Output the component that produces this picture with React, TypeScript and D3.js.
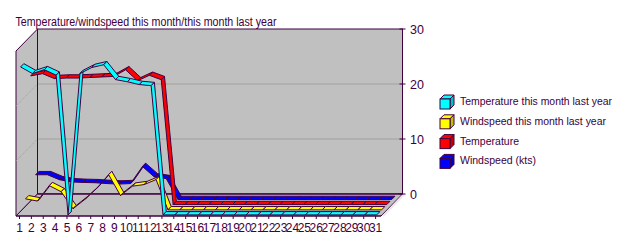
import React from 'react';
import * as d3 from 'd3';

const days = ["1","2","3","4","5","6","7","8","9","10","11","12","13","14","15","16","17","18","19","20","21","22","23","24","25","26","27","28","29","30","31"];
const valueTicks = [0, 10, 20, 30];

const tempLastYear = [26.9, 25.7, 26.4, 25.4, 0, 25.7, 26.8, 27.3, 24.6, 24.2, 23.7, 23.5, 0, 0, 0, 0, 0, 0, 0, 0, 0, 0, 0, 0, 0, 0, 0, 0, 0, 0, 0];
const windLastYear = [2.0, 1.6, 4.4, 3.3, 0.2, 1.9, 3.9, 6.4, 2.6, 4.3, 4.6, 5.5, 0, 0, 0, 0, 0, 0, 0, 0, 0, 0, 0, 0, 0, 0, 0, 0, 0, 0, 0];
const temperature = [23.4, 23.8, 22.9, 23.0, 23.0, 23.1, 23.2, 23.3, 24.5, 22.5, 23.5, 22.7, 0, 0, 0, 0, 0, 0, 0, 0, 0, 0, 0, 0, 0, 0, 0, 0, 0, 0, 0];
const windspeed = [4.5, 4.5, 3.6, 3.2, 3.1, 3.05, 2.9, 2.8, 2.9, 6.0, 4.1, 3.8, 0, 0, 0, 0, 0, 0, 0, 0, 0, 0, 0, 0, 0, 0, 0, 0, 0, 0, 0];

const seriesNames = ["Temperature this month last year", "Windspeed this month last year", "Temperature", "Windspeed (kts)"];
const seriesColors = ["#00ffff", "#ffff00", "#ff0000", "#0000ff"];
const seriesValues = [tempLastYear, windLastYear, temperature, windspeed];
const legendWidths = [152, 146, 59, 76];

const INK = "#400040";
const WALL = "#c0c0c0";
const GRID = "#a0a098";

export default function App() {
  const W = 633, H = 243;
  const x = d3.scalePoint<string>().domain(days).range([19.5, 375.6]);
  const y = d3.scaleLinear().domain([0, 30]).range([216, 51]);
  const DX = 21.5, DY = -22;
  const floorL = 16, floorR = 381;
  const P = (xf: number, v: number, z: number): [number, number] => [xf + DX * z, y(v) + DY * z];
  const pts = (arr: [number, number][]) => arr.map(p => p.join(",")).join(" ");

  const zFront = [0.05, 0.28, 0.52, 0.75];
  const dz = 0.15;

  const backTop = y(30) + DY, backBot = y(0) + DY;

  const ribbons: JSX.Element[] = [];
  for (let s = 3; s >= 0; s--) {
    const vals = seriesValues[s];
    const zf = zFront[s], zb = zf + dz;
    for (let i = 0; i < days.length - 1; i++) {
      const x0 = x(days[i])!, x1 = x(days[i + 1])!;
      const poly = [P(x0, vals[i], zf), P(x1, vals[i + 1], zf), P(x1, vals[i + 1], zb), P(x0, vals[i], zb)];
      ribbons.push(<polygon key={`r${s}-${i}`} points={pts(poly)} fill={seriesColors[s]} stroke={INK} strokeWidth={1} strokeLinejoin="round" />);
    }
  }

  const font = "'Liberation Sans', Arial, sans-serif";

  return (
    <svg width={W} height={H} style={{ position: 'absolute', left: 0, top: 0, background: '#fff' }} fontFamily={font}>
      <rect x={0} y={0} width={W} height={H} fill="#fff" />
      <text x={15.5} y={26} fontSize={12} fill={INK} textLength={261} lengthAdjust="spacingAndGlyphs">Temperature/windspeed this month/this month last year</text>

      {/* back wall */}
      <rect x={floorL + DX} y={backTop} width={floorR - floorL} height={backBot - backTop} fill={WALL} stroke={INK} />
      {/* left wall */}
      <polygon points={pts([P(floorL, 30, 0), P(floorL, 30, 1), P(floorL, 0, 1), P(floorL, 0, 0)])} fill={WALL} stroke={INK} />
      {/* floor */}
      <polygon points={pts([P(floorL, 0, 0), P(floorR, 0, 0), P(floorR, 0, 1), P(floorL, 0, 1)])} fill={WALL} stroke={INK} />
      <line x1={floorR + 2} y1={y(0)} x2={floorR + DX + 2} y2={y(0) + DY} stroke="#e8e8e8" strokeWidth={2} />

      {/* gridlines */}
      {valueTicks.filter(v => v > 0 && v < 30).map(v => (
        <g key={`g${v}`}>
          <line x1={floorL + DX} x2={floorR + DX} y1={y(v) + DY} y2={y(v) + DY} stroke={GRID} />
          <line x1={floorL} y1={y(v)} x2={floorL + DX} y2={y(v) + DY} stroke={GRID} strokeDasharray="1,1" />
        </g>
      ))}
      <line x1={floorL + DX} x2={floorR + DX} y1={backBot} y2={backBot} stroke={INK} />
      <line x1={floorL + DX} x2={floorL + DX} y1={backTop} y2={backBot} stroke={INK} />

      {ribbons}

      {/* value axis */}
      <line x1={floorR + DX} x2={floorR + DX} y1={backTop} y2={backBot} stroke={INK} />
      {valueTicks.map(v => (
        <g key={`t${v}`}>
          <line x1={floorR + DX - 3} x2={floorR + DX + 3} y1={y(v) + DY} y2={y(v) + DY} stroke={INK} />
          <text x={410} y={y(v) + DY + 4.5} fontSize={12.5} fill={INK}>{v}</text>
        </g>
      ))}

      {/* category axis */}
      <line x1={floorL} x2={floorR} y1={y(0)} y2={y(0)} stroke={INK} />
      {days.map(d => (
        <g key={`c${d}`}>
          <line x1={x(d)} x2={x(d)} y1={y(0)} y2={y(0) + 3} stroke={INK} />
          <text x={x(d)} y={232} fontSize={12} fill={INK} textAnchor="middle">{d}</text>
        </g>
      ))}

      {/* legend */}
      {seriesNames.map((n, i) => {
        const by = 105 + i * 19.8;
        const c = d3.color(seriesColors[i])!;
        const fx = 440, fy = by - 6, s = 10, o = 4;
        return (
          <g key={`l${i}`}>
            <polygon points={pts([[fx, fy], [fx + o, fy - o], [fx + s + o, fy - o], [fx + s, fy]])} fill={c.brighter(0.6).toString()} stroke={INK} />
            <polygon points={pts([[fx + s, fy], [fx + s + o, fy - o], [fx + s + o, fy + s - o], [fx + s, fy + s]])} fill={c.darker(0.8).toString()} stroke={INK} />
            <rect x={fx} y={fy} width={s} height={s} fill={seriesColors[i]} stroke={INK} />
            <text x={460} y={by} fontSize={11.5} fill={INK} textLength={legendWidths[i]} lengthAdjust="spacingAndGlyphs">{n}</text>
          </g>
        );
      })}
    </svg>
  );
}
